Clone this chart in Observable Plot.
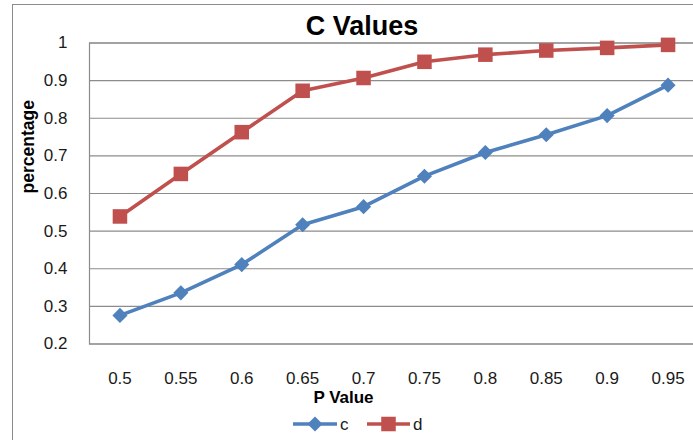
<!DOCTYPE html>
<html>
<head>
<meta charset="utf-8">
<script src="https://cdn.jsdelivr.net/npm/d3@7"></script>
<script src="https://cdn.jsdelivr.net/npm/@observablehq/plot@0.6"></script>
<style>
  html, body { margin: 0; padding: 0; overflow: hidden; background: #fff; }
  #wrap { position: relative; width: 693px; height: 440px; overflow: hidden; background: #fff;
          font-family: "Liberation Sans", Arial, sans-serif; }
  #border { position: absolute; left: 12px; top: 4px; width: 800px; height: 600px;
            border: 1px solid #8c8c8c; box-sizing: border-box; }
  #title { position: absolute; left: 0; width: 724px; top: 8px; text-align: center;
           font-weight: bold; font-size: 27px; color: #000; line-height: 36px; }
  #chart { position: absolute; left: 0; top: 36px; width: 712px; }
  #chart svg { max-width: none !important; }
  #legend { position: absolute; left: 0; top: 410px; }
</style>
</head>
<body>
<div id="wrap">
  <div id="border"></div>
  <div id="title">C Values</div>
  <div id="chart"></div>
  <div id="legend"></div>
</div>
<script>
// ---- data ----
const pValues = ["0.5", "0.55", "0.6", "0.65", "0.7", "0.75", "0.8", "0.85", "0.9", "0.95"];
const cValues = [0.276, 0.336, 0.411, 0.517, 0.565, 0.646, 0.709, 0.756, 0.807, 0.888];
const dValues = [0.539, 0.652, 0.763, 0.873, 0.907, 0.950, 0.969, 0.980, 0.987, 0.995];
const seriesNames = ["c", "d"];
const seriesColors = ["#4F81BD", "#C0504D"];
const yTicks = [0.2, 0.3, 0.4, 0.5, 0.6, 0.7, 0.8, 0.9, 1];
const yTickLabels = ["0.2", "0.3", "0.4", "0.5", "0.6", "0.7", "0.8", "0.9", "1"];

const rows = [
  ...pValues.map((p, i) => ({p, v: cValues[i], s: "c"})),
  ...pValues.map((p, i) => ({p, v: dValues[i], s: "d"}))
];
const cRows = rows.filter(r => r.s === "c");
const dRows = rows.filter(r => r.s === "d");

const fontTick = "Liberation Sans, Arial, sans-serif";

const chart = Plot.plot({
  width: 712,
  height: 372,
  marginLeft: 89,
  marginRight: 14,
  marginTop: 6.5,
  marginBottom: 64.5,
  style: {fontFamily: fontTick, fontSize: "17px", color: "#1a1a1a", overflow: "visible", background: "transparent", maxWidth: "none"},
  x: {type: "point", domain: pValues, padding: 0.5, round: false, label: null},
  y: {domain: [0.2, 1], label: null},
  color: {domain: seriesNames, range: seriesColors},
  marks: [
    Plot.ruleY(yTicks, {stroke: "#8c8c8c", strokeWidth: 1.2}),
    Plot.frame({stroke: "#8c8c8c", strokeWidth: 1.2}),
    Plot.axisY(yTicks, {tickSize: 0, tickPadding: 22, tickFormat: (d) => yTickLabels[yTicks.indexOf(d)], fontSize: 17}),
    Plot.axisX({tickSize: 0, tickPadding: 27.5, fontSize: 17}),
    Plot.line(rows, {x: "p", y: "v", z: "s", stroke: "s", strokeWidth: 3.6}),
    Plot.dot(cRows, {x: "p", y: "v", symbol: "diamond2", r: 6.8, fill: seriesColors[0], stroke: "none"}),
    Plot.dot(dRows, {x: "p", y: "v", symbol: "square", r: 8.2, fill: seriesColors[1], stroke: "none"}),
    Plot.text(["P Value"], {text: d => d, frameAnchor: "bottom", dx: 343 - 393.5, dy: 59, fontWeight: "bold", fontSize: 17, fill: "#000"}),
    Plot.text(["percentage"], {text: d => d, frameAnchor: "left", dx: -61, rotate: -90, fontWeight: "bold", fontSize: 17.5, fill: "#000"})
  ]
});
document.getElementById("chart").appendChild(chart);

// ---- legend ----
const lg = d3.select("#legend").append("svg").attr("width", 693).attr("height", 30);
const items = [
  {name: seriesNames[0], color: seriesColors[0], x1: 293, x2: 337, sym: d3.symbolDiamond2, size: Math.PI * 6.8 * 6.8, tx: 340},
  {name: seriesNames[1], color: seriesColors[1], x1: 367, x2: 410, sym: d3.symbolSquare, size: Math.PI * 8.2 * 8.2, tx: 413}
];
const cy = 14;
items.forEach(it => {
  lg.append("line").attr("x1", it.x1).attr("x2", it.x2).attr("y1", cy).attr("y2", cy)
    .attr("stroke", it.color).attr("stroke-width", 3.6);
  lg.append("path").attr("d", d3.symbol(it.sym, it.size)())
    .attr("transform", `translate(${(it.x1 + it.x2) / 2},${cy})`).attr("fill", it.color);
  lg.append("text").attr("x", it.tx).attr("y", cy).attr("dy", "0.35em")
    .attr("font-family", fontTick).attr("font-size", 17).attr("fill", "#1a1a1a").text(it.name);
});
</script>
</body>
</html>
